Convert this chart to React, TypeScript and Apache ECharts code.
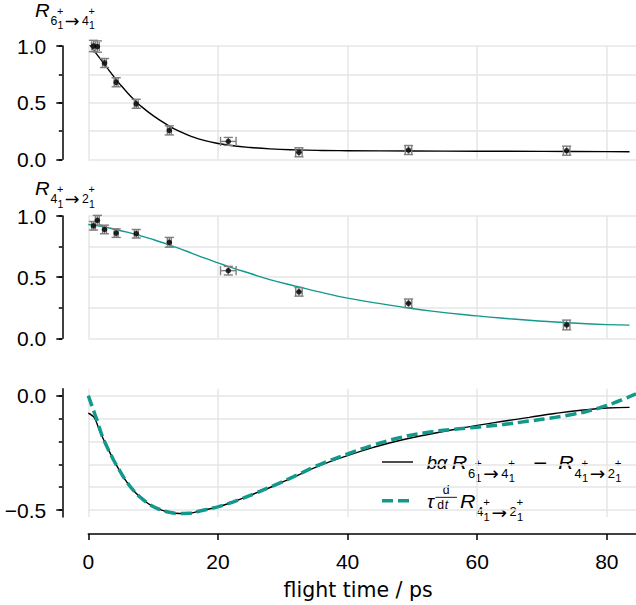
import React, { useEffect, useRef } from 'react';
import * as echarts from 'echarts';

// Measured flight times (ps) shared by both ratio panels
const flightTime = [0.8, 1.4, 2.5, 4.3, 7.4, 12.5, 21.6, 32.5, 49.4, 73.8];
const flightTimeErr = [0.3, 0.3, 0.3, 0.3, 0.3, 0.3, 1.2, 0.5, 0.5, 0.5];

// R(6+ -> 4+) decay ratios
const ratio64 = [1.0, 0.995, 0.85, 0.68, 0.49, 0.255, 0.158, 0.062, 0.082, 0.076];
const ratio64Err = [0.05, 0.05, 0.04, 0.04, 0.04, 0.04, 0.035, 0.04, 0.04, 0.04];

// R(4+ -> 2+) decay ratios
const ratio42 = [0.92, 0.965, 0.89, 0.86, 0.855, 0.785, 0.553, 0.38, 0.286, 0.109];
const ratio42Err = [0.035, 0.04, 0.035, 0.035, 0.035, 0.04, 0.035, 0.035, 0.035, 0.04];

// Fitted curve for R(6+ -> 4+)
const fit64Time = [0, 1, 2, 3, 4, 5, 6, 7, 8, 10, 12, 14, 16, 18, 20, 22, 25, 28, 32, 36, 40, 50, 60, 70, 80, 83.5];
const fit64 = [1.03, 0.95, 0.875, 0.8, 0.725, 0.655, 0.59, 0.53, 0.475, 0.385, 0.31, 0.248, 0.2, 0.165, 0.14, 0.122, 0.104, 0.092, 0.083, 0.078, 0.076, 0.073, 0.071, 0.07, 0.068, 0.067];

// Fitted curve for R(4+ -> 2+)
const fit42Time = [0, 2, 4, 6, 8, 10, 12, 14, 16, 18, 20, 22, 25, 28, 32.5, 36, 40, 44, 48, 53, 60, 65, 70, 74, 80, 83.5];
const fit42 = [0.93, 0.915, 0.892, 0.868, 0.84, 0.808, 0.772, 0.735, 0.695, 0.655, 0.617, 0.58, 0.53, 0.48, 0.42, 0.375, 0.328, 0.292, 0.259, 0.222, 0.183, 0.16, 0.14, 0.127, 0.112, 0.108];

// b·alpha·R(6->4) - R(4->2)
const diffTime = [0, 0.5, 1, 1.8, 2.5, 3.9, 5, 5.9, 7, 8.5, 10, 11, 12.5, 14.1, 15.5, 17.2, 20.1, 22.4, 25.5, 28.6, 31.6, 35.8, 40, 44, 48, 52, 56, 60, 64, 68, 72, 76, 80, 83.5];
const diffCurve = [-0.077, -0.085, -0.1, -0.157, -0.2, -0.281, -0.335, -0.376, -0.415, -0.456, -0.485, -0.497, -0.51, -0.515, -0.514, -0.504, -0.485, -0.464, -0.43, -0.395, -0.357, -0.305, -0.262, -0.226, -0.196, -0.172, -0.15, -0.13, -0.112, -0.095, -0.078, -0.064, -0.054, -0.051];

// tau · d/dt R(4->2)
const derivTime = [0, 0.5, 1, 1.5, 2, 2.5, 3.9, 5, 5.9, 7, 8.5, 10, 11, 12.5, 14.1, 15.5, 17.2, 20.1, 22.4, 25.5, 28.6, 31.6, 35.8, 40, 44, 48, 52, 56, 60, 64, 68, 72, 75, 77, 79, 81, 83, 84.5];
const derivCurve = [0.0, -0.04, -0.08, -0.12, -0.165, -0.2, -0.281, -0.335, -0.376, -0.415, -0.456, -0.485, -0.497, -0.51, -0.515, -0.514, -0.504, -0.485, -0.464, -0.43, -0.393, -0.355, -0.3, -0.255, -0.216, -0.184, -0.162, -0.148, -0.138, -0.126, -0.111, -0.095, -0.08, -0.068, -0.052, -0.033, -0.01, 0.008];

const xTicks = [0, 20, 40, 60, 80];
const ratioMajorTicks = [0, 0.5, 1];
const ratioMinorTicks = [0, 0.25, 0.5, 0.75, 1];
const diffMajorTicks = [-0.5, 0];
const diffMinorTicks = [-0.5, -0.4, -0.3, -0.2, -0.1, 0];

const X_MAX = 84.5;
const TEAL = '#12998b';
const GRID_GRAY = '#e6e6e6';
const SANS = "'Liberation Sans', Arial, sans-serif";
const DEJAVU = "'DejaVu Sans', sans-serif";

const zip = (xs: number[], ys: number[]) => xs.map((x, i) => [x, ys[i]]);
const fmt = (v: number) => (v < -1e-9 ? '\u2212' + Math.abs(v).toFixed(1) : Math.abs(v).toFixed(1));

// ---- math-style labels: glyph runs placed in units of the main font size M ----
type Tok = { s: string; x: number; dy: number; r: number; it?: boolean; f?: string; sx?: number };

const fontStr = (size: number, italic?: boolean, family?: string) =>
  `${italic ? 'italic ' : ''}${size}px ${family || SANS}`;

const textEl = (
  x: number,
  baseline: number,
  s: string,
  size: number,
  italic?: boolean,
  family?: string,
  sx = 1
) => ({
  type: 'text',
  x,
  y: baseline - 0.35 * size,
  scaleX: sx,
  silent: true,
  style: {
    text: s,
    font: fontStr(size, italic, family),
    fill: '#000',
    align: 'left',
    verticalAlign: 'middle',
  },
});

const placeToks = (x0: number, base: number, M: number, toks: Tok[]) =>
  toks.map((t) => textEl(x0 + t.x * M, base + t.dy * M, t.s, t.r * M, t.it, t.f, t.sx));

// R_{a_1^+ -> b_1^+}, starting at offset x (in M)
const ratioToks = (from: string, to: string, x = 0): Tok[] => [
  { s: 'R', x: x, dy: 0, r: 1, it: true, sx: 1.16 },
  { s: from, x: x + 0.88, dy: 0.47, r: 0.7 },
  { s: '+', x: x + 1.26, dy: -0.1, r: 0.62 },
  { s: '1', x: x + 1.28, dy: 0.7, r: 0.6 },
  { s: '\u2192', x: x + 1.7, dy: 0.6, r: 1.0, f: DEJAVU },
  { s: to, x: x + 2.68, dy: 0.47, r: 0.7 },
  { s: '+', x: x + 3.06, dy: -0.1, r: 0.62 },
  { s: '1', x: x + 3.08, dy: 0.7, r: 0.6 },
];

// ---- error bars drawn through the axis scales ----
const errorBarItem = (_params: any, api: any) => {
  const x = api.value(0);
  const y = api.value(1);
  const xe = api.value(2);
  const ye = api.value(3);
  const top = api.coord([x, y + ye]);
  const bot = api.coord([x, y - ye]);
  const left = api.coord([x - xe, y]);
  const right = api.coord([x + xe, y]);
  const cap = 4.6;
  const style = { stroke: '#7f7f7f', lineWidth: 1.4, fill: null };
  const ln = (x1: number, y1: number, x2: number, y2: number) => ({
    type: 'line',
    shape: { x1, y1, x2, y2 },
    style,
  });
  return {
    type: 'group',
    children: [
      ln(top[0], top[1], bot[0], bot[1]),
      ln(top[0] - cap, top[1], top[0] + cap, top[1]),
      ln(bot[0] - cap, bot[1], bot[0] + cap, bot[1]),
      ln(left[0], left[1], right[0], right[1]),
      ln(left[0], left[1] - cap, left[0], left[1] + cap),
      ln(right[0], right[1] - cap, right[0], right[1] + cap),
    ],
  };
};

const axisLineStyle = { color: '#000', width: 1.5 };

const xAxisFor = (gridIndex: number, visible: boolean) => ({
  type: 'value',
  gridIndex,
  min: 0,
  max: X_MAX,
  offset: visible ? 17 : 0,
  axisLine: { show: visible, onZero: false, lineStyle: axisLineStyle },
  axisTick: { show: visible, customValues: xTicks, length: 6, lineStyle: axisLineStyle },
  axisLabel: {
    show: visible,
    customValues: xTicks,
    margin: 17,
    fontSize: 21,
    fontFamily: SANS,
    color: '#000',
  },
  splitLine: { show: true, lineStyle: { color: GRID_GRAY, width: 1.5 } },
  ...(visible
    ? {
        name: 'flight time / ps',
        nameLocation: 'middle',
        nameGap: 46,
        nameTextStyle: { fontSize: 20.5, fontFamily: DEJAVU, color: '#000', padding: [0, 8, 0, 0] },
      }
    : {}),
});

const yMajorFor = (gridIndex: number, min: number, max: number, ticks: number[]) => ({
  type: 'value',
  gridIndex,
  min,
  max,
  position: 'left',
  offset: 26,
  axisLine: { show: true, onZero: false, lineStyle: axisLineStyle },
  axisTick: { show: true, customValues: ticks, length: 6, lineStyle: axisLineStyle },
  axisLabel: {
    show: true,
    customValues: ticks,
    margin: 16,
    formatter: fmt,
    fontSize: 21,
    fontFamily: SANS,
    color: '#000',
  },
  splitLine: { show: false },
});

const yMinorFor = (gridIndex: number, min: number, max: number, ticks: number[]) => ({
  type: 'value',
  gridIndex,
  min,
  max,
  position: 'left',
  offset: 26,
  axisLine: { show: false, onZero: false },
  axisTick: { show: true, customValues: ticks, length: 3.5, lineStyle: axisLineStyle },
  axisLabel: { show: false },
  splitLine: { show: true, lineStyle: { color: GRID_GRAY, width: 1.5 } },
});

const pointData = (vals: number[], errs: number[]) =>
  flightTime.map((t, i) => [t, vals[i], flightTimeErr[i], errs[i]]);

const measuredSeries = (axis: number, vals: number[], errs: number[]) => [
  {
    type: 'custom',
    xAxisIndex: axis,
    yAxisIndex: axis * 2,
    renderItem: errorBarItem,
    data: pointData(vals, errs),
    encode: { x: 0, y: 1 },
    clip: false,
    z: 3,
  },
  {
    type: 'scatter',
    xAxisIndex: axis,
    yAxisIndex: axis * 2,
    data: zip(flightTime, vals),
    symbolSize: 5.5,
    itemStyle: { color: '#000' },
    z: 4,
  },
];

export default function App() {
  const ref = useRef<HTMLDivElement>(null);

  useEffect(() => {
    if (!ref.current) return;
    const chart = echarts.init(ref.current, null, { renderer: 'svg' });

    const legendX0 = 382;
    const legendX1 = 413;
    const LM = 18.5;
    const fracLeft = 427 + 0.46 * LM;
    const fracRight = 427 + 1.62 * LM;
    const graphic: any[] = [
      ...placeToks(35, 16.7, 17.5, ratioToks('6', '4')),
      ...placeToks(35, 195, 17.5, ratioToks('4', '2')),
      {
        type: 'line',
        silent: true,
        shape: { x1: legendX0, y1: 462, x2: legendX1, y2: 462 },
        style: { stroke: '#000', lineWidth: 1.4 },
      },
      ...placeToks(426.7, 469.3, LM, [
        { s: 'b', x: 0, dy: 0, r: 1, it: true },
        { s: '\u03b1', x: 0.54, dy: 0, r: 1, it: true },
        ...ratioToks('6', '4', 1.35),
        { s: '\u2212', x: 5.72, dy: 0, r: 1, f: DEJAVU },
        ...ratioToks('4', '2', 7.11),
      ]),
      {
        type: 'line',
        silent: true,
        shape: { x1: legendX0, y1: 500.7, x2: legendX1, y2: 500.7 },
        style: { stroke: TEAL, lineWidth: 3.5, lineDash: [11, 5] },
      },
      ...placeToks(427, 507.7, LM, [
        { s: '\u03c4', x: 0, dy: 0, r: 1, it: true },
        { s: 'd', x: 0.85, dy: -0.7, r: 0.66 },
        { s: 'd', x: 0.56, dy: 0.1, r: 0.66 },
        { s: 't', x: 0.96, dy: 0.1, r: 0.66, it: true },
        ...ratioToks('4', '2', 1.78),
      ]),
      {
        type: 'line',
        silent: true,
        shape: { x1: fracLeft, y1: 507.7 - 0.56 * LM, x2: fracRight, y2: 507.7 - 0.56 * LM },
        style: { stroke: '#000', lineWidth: 0.9 },
      },
    ];

    chart.setOption({
      animation: false,
      backgroundColor: '#fff',
      grid: [
        { left: 88.3, right: 0, top: 46, height: 113.3 },
        { left: 88.3, right: 0, top: 216, height: 122.3 },
        { left: 88.3, right: 0, top: 388.8, height: 128.1 },
      ],
      xAxis: [xAxisFor(0, false), xAxisFor(1, false), xAxisFor(2, true)],
      yAxis: [
        yMajorFor(0, 0, 1, ratioMajorTicks),
        yMinorFor(0, 0, 1, ratioMinorTicks),
        yMajorFor(1, 0, 1, ratioMajorTicks),
        yMinorFor(1, 0, 1, ratioMinorTicks),
        yMajorFor(2, -0.53, 0.03, diffMajorTicks),
        yMinorFor(2, -0.53, 0.03, diffMinorTicks),
      ],
      series: [
        {
          type: 'line',
          xAxisIndex: 0,
          yAxisIndex: 0,
          data: zip(fit64Time, fit64),
          smooth: true,
          symbol: 'none',
          lineStyle: { color: '#000', width: 1.4 },
          z: 2,
        },
        ...measuredSeries(0, ratio64, ratio64Err),
        {
          type: 'line',
          xAxisIndex: 1,
          yAxisIndex: 2,
          data: zip(fit42Time, fit42),
          smooth: true,
          symbol: 'none',
          lineStyle: { color: TEAL, width: 1.4 },
          z: 2,
        },
        ...measuredSeries(1, ratio42, ratio42Err),
        {
          type: 'line',
          xAxisIndex: 2,
          yAxisIndex: 4,
          data: zip(diffTime, diffCurve),
          smooth: true,
          symbol: 'none',
          lineStyle: { color: '#000', width: 1.4 },
          z: 2,
        },
        {
          type: 'line',
          xAxisIndex: 2,
          yAxisIndex: 4,
          data: zip(derivTime, derivCurve),
          smooth: true,
          symbol: 'none',
          lineStyle: { color: TEAL, width: 3.5, type: [11, 5] },
          z: 3,
        },
      ],
      graphic,
    });

    return () => chart.dispose();
  }, []);

  return (
    <div
      ref={ref}
      style={{ position: 'absolute', left: 0, top: 0, width: 636, height: 605, background: '#fff' }}
    />
  );
}
